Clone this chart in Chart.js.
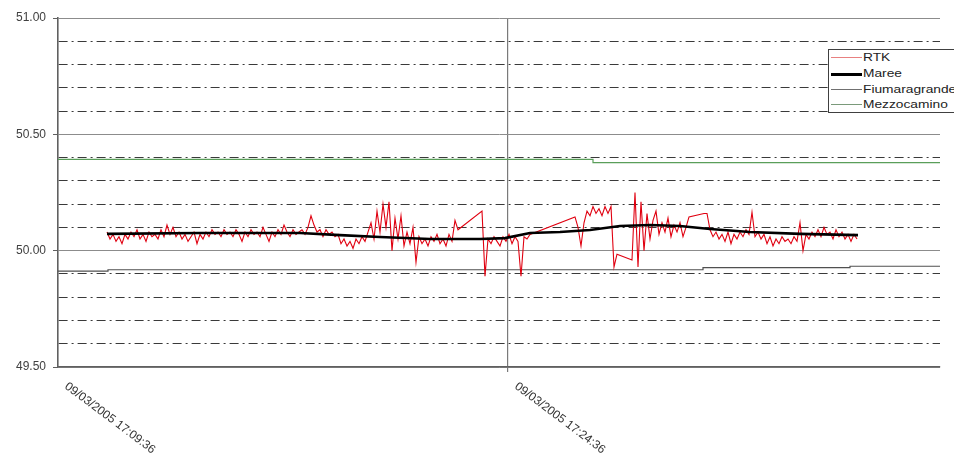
<!DOCTYPE html>
<html>
<head>
<meta charset="utf-8">
<script src="https://cdn.jsdelivr.net/npm/chart.js@4.4.0/dist/chart.umd.min.js"></script>
<style>
  html, body { margin: 0; padding: 0; background: #fff; overflow: hidden; }
  #wrap { position: relative; width: 954px; height: 454px; }
  #legend {
    position: absolute; left: 828px; top: 49px; width: 160px; height: 62px;
    border: 1px solid #404040; background: #fff;
    font-family: "Liberation Sans", Arial, sans-serif; font-size: 11px; color: #222;
  }
  #legend .item { position: absolute; left: 0; height: 14px; width: 160px; }
  #legend .sw { position: absolute; left: 2px; top: 7px; width: 31px; height: 0; }
  #legend .lb { position: absolute; left: 34px; top: 0; line-height: 14px; transform: scaleX(1.25); transform-origin: left center; white-space: nowrap; }
</style>
</head>
<body>
<div id="wrap">
  <canvas id="chart" width="954" height="454"></canvas>
  <div id="legend"></div>
</div>
<script>
// seconds after 09/03/2005 17:09:36
var tickTimes = [0, 900];
var tickLabels = ["09/03/2005 17:09:36", "09/03/2005 17:24:36"];
var axisEnd = 1764;

// RTK: one sample every 6 s, null = no fix (line bridges it)
var rtkStart = 98;
var rtkStep = 6;
var rtkValues = [
  50.08, 50.05, 50.07, 50.04, 50.06, 50.03, 50.07, 50.05, 50.08, 50.06,
  50.09, 50.05, 50.07, 50.04, 50.08, 50.06, 50.07, 50.05, 50.09, 50.06,
  50.11, 50.07, 50.10, 50.06, 50.08, 50.05, 50.07, 50.04, 50.06, 50.08,
  50.03, 50.07, 50.05, 50.08, 50.06, 50.09, 50.07, 50.08, 50.06, 50.09,
  50.07, 50.08, 50.06, 50.09, 50.07, 50.04, 50.08, 50.06, 50.09, 50.07,
  50.08, 50.06, 50.10, 50.07, 50.04, 50.08, 50.06, 50.09, 50.07, 50.11,
  50.08, 50.06, 50.09, 50.07, 50.08, 50.09, 50.07, 50.10, 50.15, 50.11,
  50.08, 50.09, 50.06, 50.09, 50.07, 50.08, 50.06, 50.07, 50.03, 50.05,
  50.02, 50.04, 50.01, 50.05, 50.03, 50.06, 50.04, 50.08, 50.12, 50.05,
  50.17, 50.08, 50.20, 50.10, 50.21, 50.00, 50.14, 50.05, 50.15, 50.02,
  50.08, 50.03, 50.10, 49.95, 50.06, 50.03, 50.05, 50.02, 50.06, 50.04,
  50.07, 50.03, 50.05, 50.02, 50.07, 50.04, 50.13, 50.09, null, null,
  null, null, null, null, null, 50.17, 49.89, 50.05, 50.03, 50.06,
  50.04, 50.02, 50.06, 50.04, 50.07, 50.03, 50.06, 50.04, 49.89, 50.06,
  50.05, 50.07, null, null, null, null, null, null, null, null,
  null, null, null, null, null, null, 50.145, 50.10, 50.02, 50.12,
  50.17, 50.15, 50.19, 50.16, 50.18, 50.15, 50.19, 50.16, 50.19, 49.93,
  49.985, null, null, null, null, 49.96, 50.25, 49.93, 50.21, 50.00,
  50.16, 50.05, 50.13, 50.17, 50.07, 50.12, 50.08, 50.14, 50.06, 50.11,
  50.08, 50.12, 50.06, 50.10, 50.145, null, null, null, null, 50.16,
  50.16, 50.09, 50.06, 50.08, 50.05, 50.07, 50.04, 50.08, 50.03, 50.07,
  50.05, 50.08, 50.06, 50.09, 50.07, 50.165, 50.06, 50.08, 50.05, 50.07,
  50.03, 50.06, 50.02, 50.05, 50.03, 50.06, 50.04, 50.05, 50.03, 50.06,
  50.04, 50.12, 50.00, 50.07, 50.05, 50.08, 50.06, 50.09, 50.06, 50.10,
  50.07, 50.08, 50.05, 50.09, 50.06, 50.08, 50.05, 50.07, 50.04, 50.07,
  50.05
];

var mareeTimes = [98, 284, 484, 564, 644, 744, 844, 894, 944, 1004, 1064, 1124, 1184, 1244, 1304, 1384, 1484, 1600];
var mareeValues = [50.072, 50.076, 50.076, 50.067, 50.059, 50.050, 50.050, 50.054, 50.076, 50.080, 50.089, 50.106, 50.110, 50.106, 50.093, 50.080, 50.072, 50.067];

var fiumeTimes = [0, 100, 1290, 1584, 1764];
var fiumeValues = [49.912, 49.918, 49.927, 49.933, 49.933];

var mezzoTimes = [0, 1070, 1764];
var mezzoValues = [50.392, 50.378, 50.378];

var seriesNames = ["RTK", "Maree", "Fiumaragrande", "Mezzocamino"];
var seriesColors = ["#e00010", "#000000", "#505050", "#5a9e5a"];
var legendSwatch = ["1px solid #e88080", "3px solid #000", "1px solid #707070", "1px solid #7a9a7a"];


function toPoints(times, values) {
    var pts = [];
    for (var i = 0; i < values.length; i++) {
        pts.push({ x: times[i], y: values[i] });
    }
    return pts;
}

var rtkTimes = rtkValues.map(function (v, i) { return rtkStart + i * rtkStep; });

function isMajor(v) {
    return Math.abs(v * 2 - Math.round(v * 2)) < 1e-6;
}

// rotated date labels, read top-left to bottom-right like the original
var xLabelPlugin = {
    id: "xLabels",
    afterDraw: function (chart) {
        var ctx = chart.ctx;
        var x = chart.scales.x;
        ctx.save();
        ctx.font = '12px "Liberation Sans", Arial, sans-serif';
        ctx.fillStyle = "#333";
        ctx.textBaseline = "middle";
        ctx.textAlign = "left";
        for (var i = 0; i < tickTimes.length; i++) {
            var px = x.getPixelForValue(tickTimes[i]);
            ctx.save();
            ctx.translate(px + 8, x.top + 18);
            ctx.rotate(37 * Math.PI / 180);
            ctx.fillText(tickLabels[i], 0, 0);
            ctx.restore();
        }
        ctx.restore();
    }
};

var config = {
    type: "line",
    data: {
        datasets: [{
            label: seriesNames[1],
            data: toPoints(mareeTimes, mareeValues),
            borderColor: seriesColors[1],
            borderWidth: 2.6,
            order: 0
        }, {
            label: seriesNames[0],
            data: toPoints(rtkTimes, rtkValues),
            borderColor: seriesColors[0],
            borderWidth: 1.1,
            spanGaps: true,
            order: 1
        }, {
            label: seriesNames[2],
            data: toPoints(fiumeTimes, fiumeValues),
            borderColor: seriesColors[2],
            borderWidth: 1.2,
            stepped: true,
            order: 2
        }, {
            label: seriesNames[3],
            data: toPoints(mezzoTimes, mezzoValues),
            borderColor: seriesColors[3],
            borderWidth: 1.2,
            stepped: true,
            order: 3
        }]
    },
    options: {
        responsive: false,
        animation: false,
        elements: { point: { radius: 0 }, line: { tension: 0 } },
        layout: { padding: { top: 18, right: 14, left: 0, bottom: 0 } },
        plugins: { legend: { display: false }, tooltip: { enabled: false } },
        scales: {
            x: {
                type: "linear",
                min: 0,
                max: axisEnd,
                afterBuildTicks: function (scale) {
                    scale.ticks = tickTimes.map(function (t) { return { value: t }; });
                },
                afterFit: function (scale) { scale.height = 87; },
                ticks: { display: false },
                grid: {
                    color: function (c) { return c.tick && c.tick.value === 900 ? "#7a7a7a" : "rgba(0,0,0,0)"; },
                    tickColor: function (c) { return c.tick && c.tick.value === 900 ? "#7a7a7a" : "rgba(0,0,0,0)"; },
                    tickLength: 5,
                    lineWidth: 1.2
                },
                border: { color: "#606060", width: 1.6 }
            },
            y: {
                min: 49.5,
                max: 51,
                afterFit: function (scale) { scale.width = 58; },
                ticks: {
                    stepSize: 0.1,
                    autoSkip: false,
                    padding: 7,
                    color: "#404040",
                    font: { family: '"Liberation Sans", Arial, sans-serif', size: 12 },
                    callback: function (v) { return isMajor(v) ? v.toFixed(2) : ""; }
                },
                grid: {
                    color: function (c) { return c.tick && isMajor(c.tick.value) ? "#8c8c8c" : "#3a3a3a"; },
                    tickColor: function (c) { return c.tick && isMajor(c.tick.value) ? "#606060" : "rgba(0,0,0,0)"; },
                    tickLength: 5,
                    lineWidth: 1
                },
                border: {
                    color: "#606060",
                    width: 1.6,
                    dash: function (c) { return c.tick && !isMajor(c.tick.value) ? [9, 4, 2, 4] : []; }
                }
            }
        }
    },
    plugins: [xLabelPlugin]
};

var myChart = new Chart(document.getElementById("chart"), config);

// legend box, sits over the top right corner of the plot like the original
var legendOrder = [0, 1, 2, 3];
var legendTops = [0, 16, 32, 47];
var legendEl = document.getElementById("legend");
legendOrder.forEach(function (k, i) {
    var item = document.createElement("div");
    item.className = "item";
    item.style.top = legendTops[i] + "px";
    item.innerHTML = '<span class="sw" style="border-top:' + legendSwatch[k] + '"></span><span class="lb">' + seriesNames[k] + '</span>';
    legendEl.appendChild(item);
});
</script>
</body>
</html>
